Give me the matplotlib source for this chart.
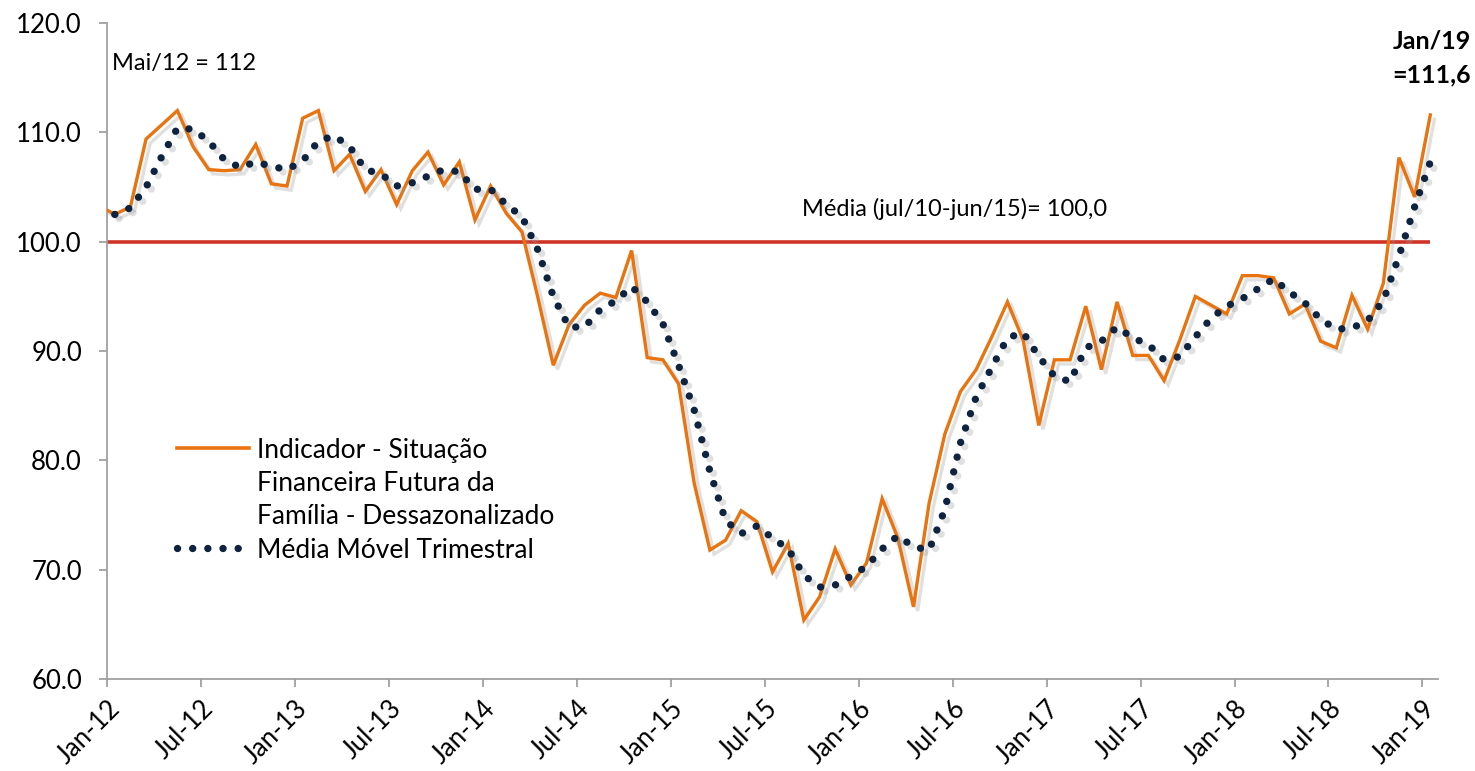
import numpy as np
import matplotlib.pyplot as plt
import matplotlib.patheffects as pe
import matplotlib.transforms as mtransforms
from matplotlib.lines import Line2D

plt.rcParams['font.family'] = ['Lato', 'DejaVu Sans']

# monthly values, dez/11 .. jan/19 (first one only shows as the stub at the axis)
indicador = [103.3,
             102.5, 103.2, 109.4, 110.7, 112.0, 108.7, 106.6, 106.5, 106.6, 108.9, 105.3, 105.1,
             111.3, 112.0, 106.5, 108.0, 104.6, 106.6, 103.4, 106.5, 108.2, 105.2, 107.3, 102.0,
             105.1, 102.6, 100.9, 95.0, 88.7, 92.4, 94.2, 95.3, 94.9, 99.2, 89.4, 89.2,
             87.0, 77.9, 71.8, 72.7, 75.4, 74.4, 69.8, 72.4, 65.4, 67.5, 71.9, 68.6,
             70.6, 76.5, 72.9, 66.6, 76.1, 82.4, 86.3, 88.3, 91.3, 94.5, 91.0, 83.2,
             89.2, 89.2, 94.1, 88.3, 94.5, 89.6, 89.6, 87.3, 91.0, 95.0, 94.2, 93.4,
             96.9, 96.9, 96.7, 93.4, 94.3, 90.9, 90.3, 95.1, 92.0, 96.2, 107.7, 104.1,
             111.6]

# media movel trimestral, jan/12 .. jan/19
media_movel = [102.5, 103.1, 105.0, 107.8, 110.4, 110.3, 109.2, 107.5, 106.8, 107.3, 106.9, 106.6,
               107.4, 109.2, 109.7, 108.7, 106.6, 106.2, 105.1, 105.4, 106.0, 106.6, 106.4, 104.8,
               104.8, 103.4, 102.3, 99.3, 95.0, 92.2, 92.2, 93.8, 94.6, 95.9, 94.5, 92.5,
               88.7, 84.6, 79.0, 74.5, 73.3, 74.0, 72.9, 71.9, 69.5, 68.4, 68.6, 69.4,
               70.3, 71.9, 73.1, 72.1, 71.8, 75.5, 81.6, 85.8, 88.5, 91.2, 91.7, 89.5,
               87.7, 87.2, 90.3, 90.9, 92.2, 91.2, 90.6, 89.2, 89.5, 91.3, 93.0, 94.1,
               94.8, 95.7, 96.6, 95.4, 94.4, 92.9, 92.0, 92.1, 92.8, 94.6, 98.7, 103.2,
               107.3]

media_periodo = 100.0
tick_labels = ['Jan-12', 'Jul-12', 'Jan-13', 'Jul-13', 'Jan-14', 'Jul-14', 'Jan-15', 'Jul-15',
               'Jan-16', 'Jul-16', 'Jan-17', 'Jul-17', 'Jan-18', 'Jul-18', 'Jan-19']

orange = '#E8730F'
navy = '#0E2340'
red = '#CF3427'
dots = (0, (0.01, 2.05))

# points sit in the middle of each month
x_ind = np.arange(len(indicador)) - 0.5
x_mm = np.arange(len(media_movel)) + 0.5

fig = plt.figure(figsize=(14.75, 7.71), dpi=100)
ax = fig.add_axes([0.0725, 0.1193, 0.9025, 0.8507])

shadow = [pe.SimpleLineShadow(offset=(3, -3), shadow_color='0.6', alpha=0.3), pe.Normal()]

ax.hlines(media_periodo, 0, x_mm[-1], color=red, lw=2.6, zorder=2)
l1, = ax.plot(x_ind, indicador, color=orange, lw=2.4, zorder=3, solid_joinstyle='miter')
l2, = ax.plot(x_mm, media_movel, color=navy, lw=5.3, linestyle=dots,
              dash_capstyle='round', zorder=4)
l1.set_path_effects(shadow)
l2.set_path_effects(shadow)

ax.set_xlim(0, 85)
ax.set_ylim(60, 120)
ax.set_yticks(np.arange(60, 121, 10))
ax.set_yticklabels([f'{v:.1f}' for v in np.arange(60, 121, 10)])
ax.set_xticks(np.arange(0, 85, 6))
ax.set_xticklabels(tick_labels, rotation=45, ha='right', rotation_mode='anchor')
shift = mtransforms.ScaledTranslation(10 / 100, 0, fig.dpi_scale_trans)
for lab in ax.get_xticklabels():
    lab.set_transform(lab.get_transform() + shift)

for s in ['top', 'right']:
    ax.spines[s].set_visible(False)
for s in ['left', 'bottom']:
    ax.spines[s].set_color('#A0A0A0')
    ax.spines[s].set_linewidth(1.3)
ax.tick_params(axis='both', colors='#A0A0A0', labelcolor='black', length=6, width=1.3,
               labelsize=18.5)
ax.tick_params(axis='y', pad=12)
ax.tick_params(axis='x', pad=6)

ax.text(0.35, 116.3, 'Mai/12 = 112', fontsize=17, va='center', ha='left')
ax.text(44.35, 103.0, 'Média (jul/10-jun/15)= 100,0', fontsize=17, va='center', ha='left')
ax.text(87.1, 116.8, 'Jan/19\n=111,6', fontsize=18, fontweight='bold', va='center',
        ha='right', multialignment='right', linespacing=1.55, clip_on=False)

blank = Line2D([], [], color='none')
h1 = Line2D([], [], color=orange, lw=2.6)
h2 = Line2D([], [], color=navy, lw=5.3, linestyle=dots, dash_capstyle='round')
leg = ax.legend([h1, blank, h2],
                ['Indicador - Situação', 'Financeira Futura da\nFamília - Dessazonalizado',
                 'Média Móvel Trimestral'],
                loc='upper left', bbox_to_anchor=(0.053, 0.368), frameon=False, fontsize=19,
                handlelength=2.7, handletextpad=0.3, labelspacing=0.32, borderpad=0,
                borderaxespad=0)
leg.get_texts()[1].set_linespacing(1.4)

fig.savefig('out.png', dpi=100)
